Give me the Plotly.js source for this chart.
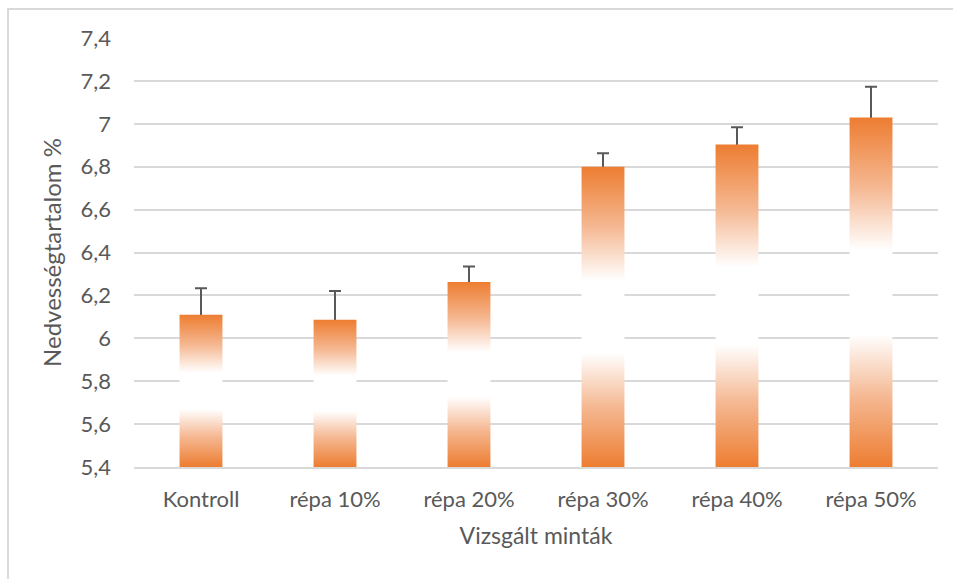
<!DOCTYPE html>
<html>
<head>
<meta charset="utf-8">
<script src="https://cdn.plot.ly/plotly-3.0.1.min.js"></script>
<style>
  html, body { margin: 0; padding: 0; background: #fff; overflow: hidden; }
  #chart { position: absolute; left: 0; top: 0; width: 953px; height: 579px; }
  #frame { position: absolute; left: 7px; top: 8px; width: 1000px; height: 700px;
           border: 2px solid #D9D9D9; box-sizing: border-box; pointer-events: none; }
</style>
</head>
<body>
<div id="chart"></div>
<div id="frame"></div>
<script>
// ---- data ----
const categories = ["Kontroll", "répa 10%", "répa 20%", "répa 30%", "répa 40%", "répa 50%"];
const moisture   = [6.11, 6.086, 6.263, 6.80, 6.903, 7.029];
const errorPlus  = [0.123, 0.135, 0.072, 0.063, 0.081, 0.144];
const yTickVals  = [5.4, 5.6, 5.8, 6.0, 6.2, 6.4, 6.6, 6.8, 7.0, 7.2, 7.4];
const axisBase   = 5.4;

// ---- style ----
const orange = '#ED7D31';
const textColor = '#595959';
const gridColor = '#D9D9D9';
const barHalf = 0.16;
const font = 'Lato, "Open Sans", sans-serif';

const traces = [];
const idx = categories.map((c, i) => i);

// error bars first (lower half gets hidden behind the bars drawn afterwards)
traces.push({
  type: 'scatter',
  mode: 'markers',
  x: idx,
  y: moisture,
  marker: { color: 'rgba(0,0,0,0)', size: 1 },
  error_y: { type: 'data', array: errorPlus, symmetric: true, color: '#595959', thickness: 2, width: 6 },
  hoverinfo: 'skip',
  showlegend: false
});

// bars with vertical gradient fill
categories.forEach((c, i) => {
  traces.push({
    type: 'scatter',
    mode: 'none',
    x: [i - barHalf, i + barHalf, i + barHalf, i - barHalf, i - barHalf],
    y: [axisBase, axisBase, moisture[i], moisture[i], axisBase],
    fill: 'toself',
    fillcolor: orange,
    fillgradient: {
      type: 'vertical',
      colorscale: [[0, orange], [0.2, '#F5B892'], [0.38, '#FFFFFF'], [0.62, '#FFFFFF'], [0.8, '#F5B892'], [1, orange]]
    },
    hoverinfo: 'skip',
    showlegend: false
  });
});

const layout = {
  width: 953, height: 579,
  margin: { l: 134, r: 15, t: 38, b: 112 },
  paper_bgcolor: 'rgba(0,0,0,0)',
  plot_bgcolor: '#fff',
  separators: ', ',
  font: { family: font, color: textColor, size: 22 },
  showlegend: false,
  xaxis: {
    range: [-0.5, categories.length - 0.5],
    tickvals: idx,
    ticktext: categories,
    showgrid: false,
    zeroline: false,
    showline: true,
    linecolor: gridColor,
    linewidth: 2,
    ticks: '',
    ticklabelstandoff: 12,
    tickfont: { size: 22, color: textColor, family: font },
    title: { text: 'Vizsgált minták', font: { size: 23, color: textColor, family: font }, standoff: 16 },
    fixedrange: true
  },
  yaxis: {
    range: [yTickVals[0], yTickVals[yTickVals.length - 1]],
    tickvals: yTickVals,
    showgrid: true,
    gridcolor: gridColor,
    gridwidth: 2,
    zeroline: false,
    showline: false,
    ticks: '',
    ticklabelstandoff: 22,
    tickfont: { size: 22, color: textColor, family: font },
    title: { text: 'Nedvességtartalom %', font: { size: 24, color: textColor, family: font }, standoff: 12 },
    fixedrange: true
  }
};

Plotly.newPlot('chart', traces, layout, { displayModeBar: false, staticPlot: true });
</script>
</body>
</html>
